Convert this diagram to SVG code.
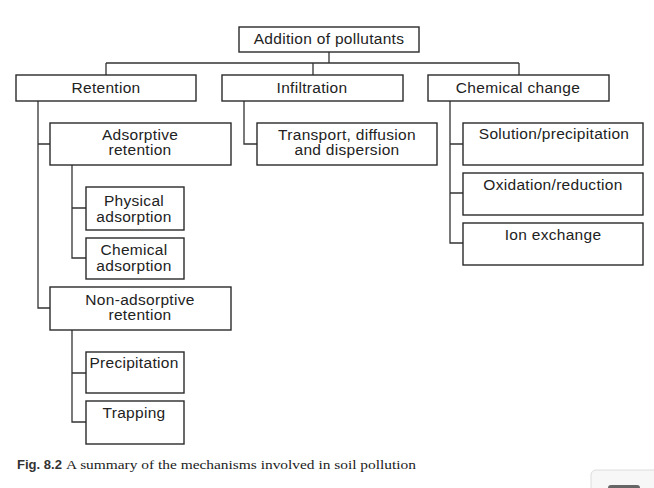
<svg xmlns="http://www.w3.org/2000/svg" width="654" height="488" viewBox="0 0 654 488">
<style>
.box{fill:#fff;stroke:#2a2a2a;stroke-width:1.4}
.lbl{font-family:"Liberation Sans",Arial,sans-serif;font-size:15.5px;letter-spacing:0.3px;fill:#222;text-anchor:middle}
.con{fill:none;stroke:#333;stroke-width:1.3}
.cap{font-family:"Liberation Serif","Times New Roman",serif;font-size:12.5px;fill:#222}
.capb{font-family:"Liberation Sans",Arial,sans-serif;font-size:12.5px;font-weight:bold;fill:#333}
</style>
<rect width="654" height="488" fill="#fff"/>
<g id="connectors">
<path class="con" d="M329,52 V63 M106,63 H519 M106,63 V75 M313,63 V75 M519,63 V75"/>
<path class="con" d="M38,101 V308 H50 M38,144 H50"/>
<path class="con" d="M244,101 V144 H257"/>
<path class="con" d="M450,101 V243 H463 M450,144 H463 M450,193 H463"/>
<path class="con" d="M72,165 V258 H86 M72,208 H86"/>
<path class="con" d="M72,330 V422 H86 M72,373 H86"/>
</g>
<g id="addition"><rect class="box" x="239" y="27" width="180" height="25"/><text class="lbl" x="329" y="44">Addition of pollutants</text></g>
<g id="retention"><rect class="box" x="16" y="75" width="180" height="26"/><text class="lbl" x="106" y="93">Retention</text></g>
<g id="infiltration"><rect class="box" x="222" y="75" width="181" height="26"/><text class="lbl" x="312" y="93">Infiltration</text></g>
<g id="chemical-change"><rect class="box" x="428" y="75" width="181" height="26"/><text class="lbl" x="518" y="93">Chemical change</text></g>
<g id="adsorptive"><rect class="box" x="50" y="123" width="181" height="42"/><text class="lbl" x="140" y="140">Adsorptive</text><text class="lbl" x="140" y="155">retention</text></g>
<g id="transport"><rect class="box" x="257" y="123" width="180" height="42"/><text class="lbl" x="347" y="140">Transport, diffusion</text><text class="lbl" x="347" y="155">and dispersion</text></g>
<g id="solution"><rect class="box" x="463" y="123" width="180" height="42"/><text class="lbl" x="554" y="139">Solution/precipitation</text></g>
<g id="oxidation"><rect class="box" x="463" y="173" width="180" height="42"/><text class="lbl" x="553" y="190">Oxidation/reduction</text></g>
<g id="ion-exchange"><rect class="box" x="463" y="223" width="180" height="42"/><text class="lbl" x="553" y="240">Ion exchange</text></g>
<g id="physical"><rect class="box" x="86" y="187" width="98" height="43"/><text class="lbl" x="134" y="206">Physical</text><text class="lbl" x="134" y="222">adsorption</text></g>
<g id="chemical-adsorption"><rect class="box" x="86" y="238" width="98" height="41"/><text class="lbl" x="134" y="255">Chemical</text><text class="lbl" x="134" y="271">adsorption</text></g>
<g id="non-adsorptive"><rect class="box" x="50" y="287" width="181" height="43"/><text class="lbl" x="140" y="305">Non-adsorptive</text><text class="lbl" x="140" y="320">retention</text></g>
<g id="precipitation"><rect class="box" x="86" y="352" width="98" height="41"/><text class="lbl" x="134" y="368">Precipitation</text></g>
<g id="trapping"><rect class="box" x="86" y="401" width="98" height="43"/><text class="lbl" x="134" y="418">Trapping</text></g>
<text class="capb" x="17" y="469" textLength="45" lengthAdjust="spacingAndGlyphs">Fig. 8.2</text>
<text class="cap" x="66" y="469" textLength="350" lengthAdjust="spacingAndGlyphs">A summary of the mechanisms involved in soil pollution</text>
<rect x="591" y="470" width="70" height="30" rx="5" fill="#f7f7f7" stroke="#dcdcdc"/>
<rect x="608" y="485" width="32" height="10" rx="3" fill="#666"/>
</svg>
